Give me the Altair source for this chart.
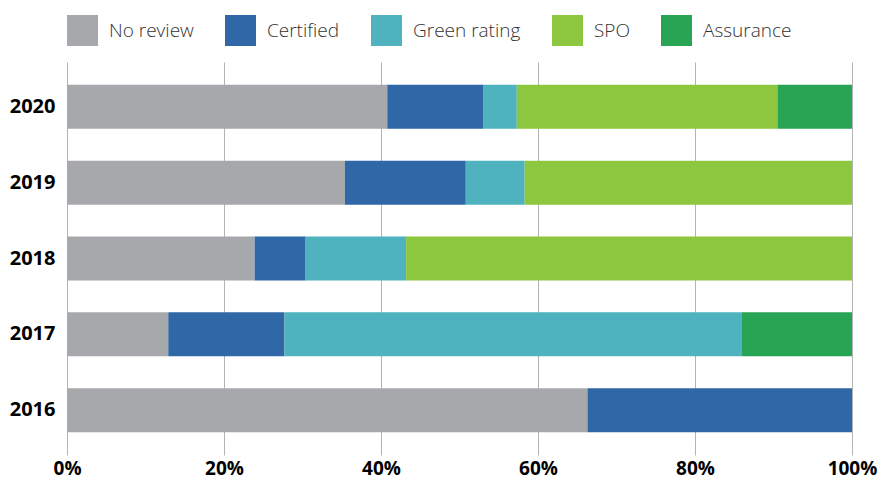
import altair as alt
import pandas as pd

years = ["2020", "2019", "2018", "2017", "2016"]
series = ["No review", "Certified", "Green rating", "SPO", "Assurance"]
colors = ["#A7A8AB", "#2F67A7", "#4EB3BF", "#8DC63F", "#27A555"]

no_review = [40.8, 35.4, 23.9, 12.9, 66.3]
certified = [12.2, 15.4, 6.5, 14.8, 33.7]
green_rating = [4.3, 7.5, 12.8, 58.2, 0.0]
spo = [33.2, 41.7, 56.8, 0.0, 0.0]
assurance = [9.5, 0.0, 0.0, 14.1, 0.0]

values = [no_review, certified, green_rating, spo, assurance]
rows = []
for si, (s, vals) in enumerate(zip(series, values)):
    for y, v in zip(years, vals):
        rows.append({"year": y, "type": s, "share": v, "order": si})
df = pd.DataFrame(rows)

FONT = "Open Sans"

chart = (
    alt.Chart(df)
    .mark_bar()
    .encode(
        y=alt.Y(
            "year:N",
            sort=years,
            title=None,
            scale=alt.Scale(paddingInner=0.42, paddingOuter=0.3),
            axis=alt.Axis(
                labelFont=FONT, labelFontWeight="bold", labelFontSize=20,
                labelColor="#000000", labelPadding=12, ticks=False, domain=False,
                grid=False,
            ),
        ),
        x=alt.X(
            "share:Q",
            stack="zero",
            title=None,
            scale=alt.Scale(domain=[0, 100], nice=False),
            axis=alt.Axis(
                values=[0, 20, 40, 60, 80, 100],
                labelExpr="datum.value + '%'",
                labelFont=FONT, labelFontWeight="bold", labelFontSize=19,
                labelColor="#000000", labelPadding=4, ticks=False, domain=False,
                grid=True, gridColor="#B3B3B3", gridWidth=1,
                labelFlush=False,
            ),
        ),
        color=alt.Color(
            "type:N",
            scale=alt.Scale(domain=series, range=colors),
            legend=alt.Legend(
                title=None, orient="top", direction="horizontal",
                symbolType="square", symbolSize=961, symbolStrokeWidth=0,
                labelFont=FONT, labelFontSize=19, labelFontWeight=300,
                labelColor="#333333", columnPadding=31, labelOffset=11,
                offset=16, padding=0,
            ),
        ),
        order=alt.Order("order:Q"),
    )
    .properties(
        width=785, height=393,
        autosize="none",
        padding={"left": 59, "top": 54, "right": 26, "bottom": 26},
    )
    .configure_view(stroke=None)
)

chart.save("out.html", embed_options={"renderer": "svg", "actions": False})
